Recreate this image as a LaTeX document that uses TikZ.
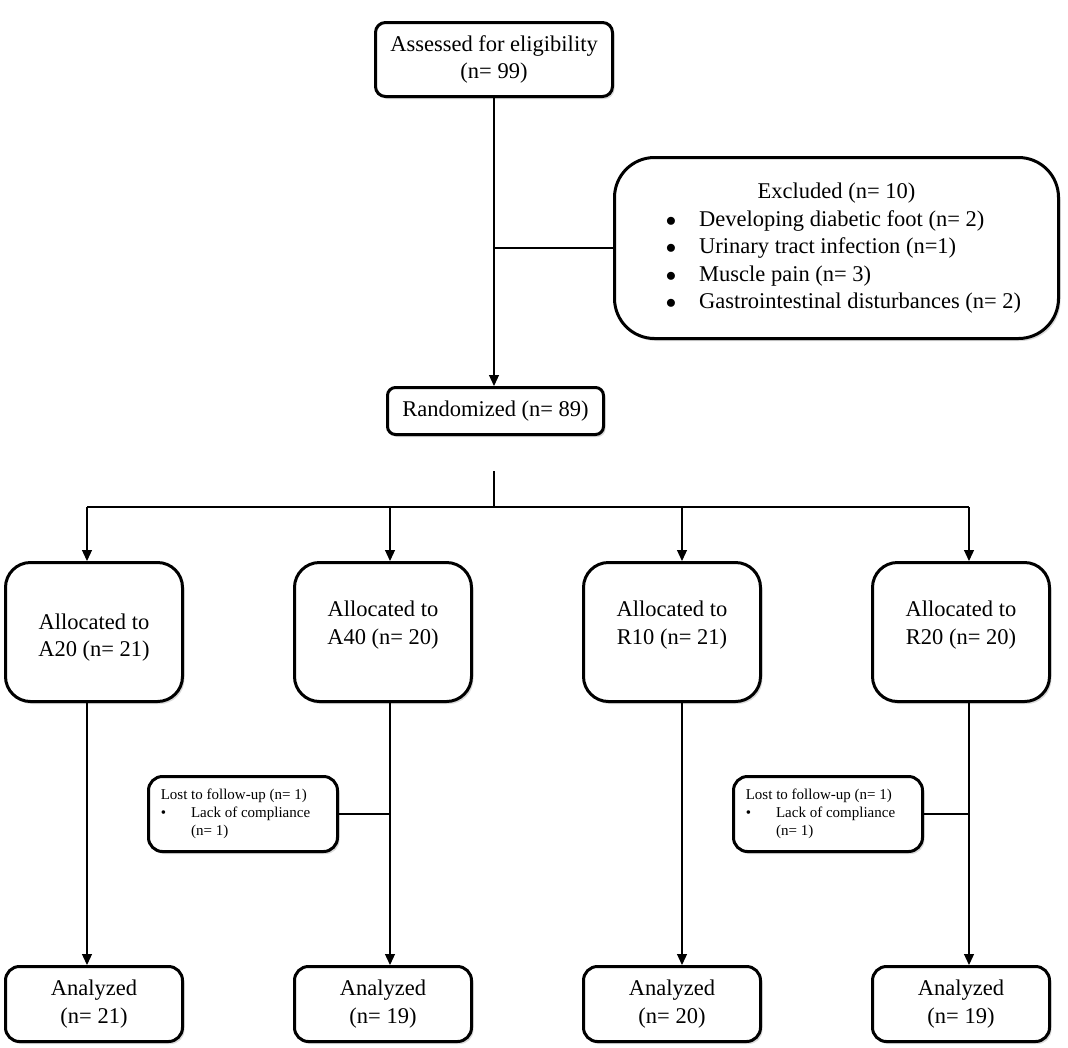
\documentclass[tikz,border=0pt]{standalone}
\usepackage{fontspec}
\setmainfont{Liberation Serif}
\usepackage{tikz}
\usetikzlibrary{positioning, arrows.meta, shadows}
\def\link{\draw[-{Triangle[width=10pt,length=11pt]}, line width=1.2pt]}
\def\joint{\draw[line width=1.2pt]}
\tikzset{
  flowbox/.style={draw, line width=3pt, fill=white, align=center, inner sep=0pt,
    drop shadow={shadow xshift=2pt, shadow yshift=-2.5pt, opacity=.3},
    font=\fontsize{22.5pt}{27.5pt}\selectfont},
  allocbox/.style={flowbox, rounded corners=25pt, minimum width=177pt, minimum height=139pt,
    text height=45pt, text depth=20.5pt},
  analysedbox/.style={flowbox, rounded corners=14pt, minimum width=177pt, minimum height=75pt},
  lostbox/.style={flowbox, rounded corners=14pt, minimum width=189pt, minimum height=75pt,
    font=\fontsize{15pt}{18pt}\selectfont},
}

\begin{document}
\begin{tikzpicture}
            \useasboundingbox (0,0) rectangle (1068pt,-1047pt);
            \node [flowbox, rounded corners=10pt, minimum width=237pt, minimum height=74pt] (assess) at (494pt,-59.5pt) {Assessed for eligibility\\(n= 99)};
            \node [flowbox, rounded corners=40pt, minimum width=444pt, minimum height=181pt, below right=58pt and -1pt of assess] (excl) {%
              \begin{tabular}{@{\hspace{14pt}}c@{\hspace{23pt}}l@{}}
              \multicolumn{2}{@{}c@{}}{Excluded (n= 10)}\\
              $\bullet$ & Developing diabetic foot (n= 2)\\
              $\bullet$ & Urinary tract infection (n=1)\\
              $\bullet$ & Muscle pain (n= 3)\\
              $\bullet$ & Gastrointestinal disturbances (n= 2)
              \end{tabular}};
            \node [flowbox, rounded corners=8pt, minimum width=216pt, minimum height=47pt, below=288pt of assess, xshift=1.5pt] (random) {Randomized (n= 89)};

            \node [allocbox, text height=70pt, below left=125pt and 202pt of random] (a20) {Allocated to\\A20 (n= 21)};
            \node [allocbox, right=109pt of a20] (a40) {Allocated to\\A40 (n= 20)};
            \node [allocbox, right=109pt of a40] (r10) {Allocated to\\R10 (n= 21)};
            \node [allocbox, right=109pt of r10] (r20) {Allocated to\\R20 (n= 20)};

            \node [lostbox, below right=72pt and -37pt of a20] (lost1) {%
              \begin{tabular}{@{}l@{\hspace{25pt}}l@{\hspace{15pt}}}
              \multicolumn{2}{@{}l@{}}{Lost to follow-up (n= 1)}\\
              \textbullet & Lack of compliance\\
               & (n= 1)
              \end{tabular}};
            \node [lostbox, below right=72pt and -30pt of r10] (lost2) {%
              \begin{tabular}{@{}l@{\hspace{25pt}}l@{\hspace{15pt}}}
              \multicolumn{2}{@{}l@{}}{Lost to follow-up (n= 1)}\\
              \textbullet & Lack of compliance\\
               & (n= 1)
              \end{tabular}};

            \node [analysedbox, below=262pt of a20] (an1) {Analyzed\\(n= 21)};
            \node [analysedbox, below=262pt of a40] (an2) {Analyzed\\(n= 19)};
            \node [analysedbox, below=262pt of r10] (an3) {Analyzed\\(n= 20)};
            \node [analysedbox, below=262pt of r20] (an4) {Analyzed\\(n= 19)};

            \coordinate [below=35pt of random] (stub);
            \coordinate [below=71pt of random] (split);
            \coordinate (c1) at ([xshift=-7pt]a20.north);
            \coordinate (c2) at ([xshift=7pt]a40.north);
            \coordinate (c3) at ([xshift=10pt]r10.north);
            \coordinate (c4) at ([xshift=8pt]r20.north);

            \link (assess) -- (assess |- random.north);
            \joint (assess |- excl.west) -- (excl.west);
            \joint (stub -| assess) -- (split -| assess);
            \joint (split -| c1) -- (split -| c4);
            \link (split -| c1) -- (c1);
            \link (split -| c2) -- (c2);
            \link (split -| c3) -- (c3);
            \link (split -| c4) -- (c4);
            \link (c1 |- a20.south) -- (c1 |- an1.north);
            \link (c2 |- a40.south) -- (c2 |- an2.north);
            \link (c3 |- r10.south) -- (c3 |- an3.north);
            \link (c4 |- r20.south) -- (c4 |- an4.north);
            \joint (lost1.east) -- (lost1.east -| c2);
            \joint (lost2.east) -- (lost2.east -| c4);
        \end{tikzpicture}
\end{document}
